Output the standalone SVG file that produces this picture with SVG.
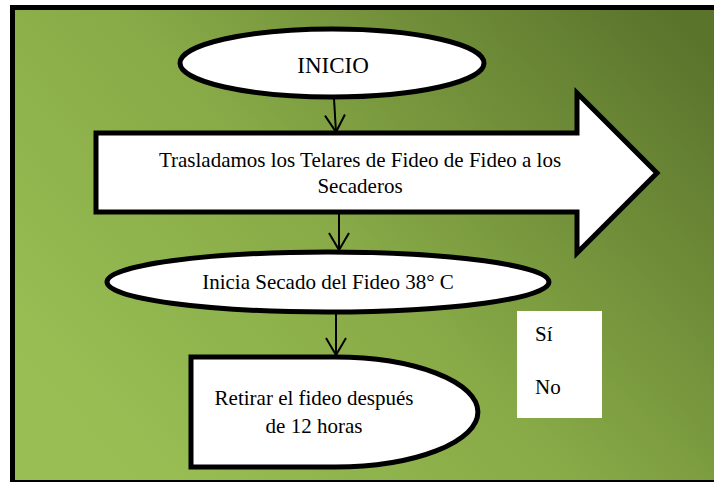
<svg xmlns="http://www.w3.org/2000/svg" width="714" height="482" viewBox="0 0 714 482">
<defs>
<linearGradient id="bg" x1="0" y1="0.75" x2="1" y2="0.1">
<stop offset="0" stop-color="#99bf54"/>
<stop offset="0.45" stop-color="#88aa47"/>
<stop offset="1" stop-color="#5a742c"/>
</linearGradient>
<marker id="v" markerUnits="userSpaceOnUse" markerWidth="40" markerHeight="40" viewBox="-20 -20 40 40" refX="0" refY="0" orient="auto" overflow="visible">
<path d="M-17,-10 L0,0 L-17,10" fill="none" stroke="#000" stroke-width="2"/>
</marker>
</defs>
<style>
.shape{fill:#fff;stroke:#000;stroke-width:5}
.t{font-family:"Liberation Serif","Times New Roman",serif;font-size:21px;fill:#000;text-anchor:middle}
.tl{font-family:"Liberation Serif","Times New Roman",serif;font-size:21px;fill:#000}
.conn{fill:none;stroke:#000;stroke-width:2;marker-end:url(#v)}
</style>
<rect x="10" y="5" width="704" height="477" fill="#000"/>
<rect x="15" y="10" width="699" height="470" fill="url(#bg)"/>
<g id="connectors">
<path class="conn" d="M334,99 L336,132"/>
<path class="conn" d="M339,214 L339,250"/>
<path class="conn" d="M336,314 L336,355"/>
</g>
<g id="inicio">
<ellipse class="shape" cx="332" cy="63" rx="152" ry="34" stroke-width="4.5"/>
<text class="t" x="333" y="73" font-size="23" style="font-size:23px">INICIO</text>
</g>
<g id="trasladamos">
<polygon class="shape" points="96,133 577,133 577,93 657,173 577,253 577,212 96,212"/>
<text class="t" x="360" y="167">Trasladamos los Telares de Fideo de Fideo a los</text>
<text class="t" x="360" y="193">Secaderos</text>
</g>
<g id="secado">
<ellipse class="shape" cx="328" cy="282" rx="221" ry="30" stroke-width="4"/>
<text class="t" x="328" y="289">Inicia Secado del Fideo 38° C</text>
</g>
<g id="retirar">
<path class="shape" d="M191,357 H335 A143,55 0 0 1 335,467 H191 Z" stroke-width="5.5"/>
<text class="t" x="314" y="405">Retirar el fideo después</text>
<text class="t" x="314" y="433">de 12 horas</text>
</g>
<g id="sino">
<rect x="517" y="311" width="85" height="107" fill="#fff"/>
<text class="tl" x="535" y="341">Sí</text>
<text class="tl" x="535" y="394">No</text>
</g>
</svg>
